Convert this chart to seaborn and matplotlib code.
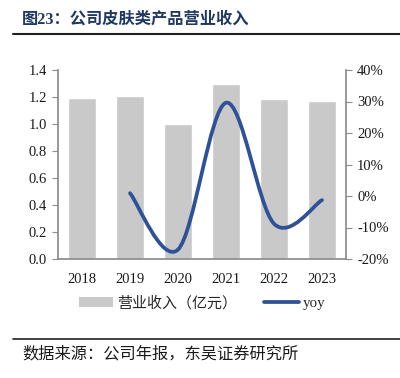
import matplotlib
matplotlib.use("Agg")
import matplotlib.pyplot as plt
import seaborn as sns
import pandas as pd
import numpy as np
from matplotlib.path import Path
from matplotlib.patches import PathPatch, Patch
from matplotlib.lines import Line2D

years = ["2018", "2019", "2020", "2021", "2022", "2023"]
revenue = [1.195, 1.207, 1.0, 1.296, 1.185, 1.17]
yoy_years = ["2019", "2020", "2021", "2022", "2023"]
yoy = [0.9, -17.0, 29.6, -8.8, -1.3]
left_ticks = [0.0, 0.2, 0.4, 0.6, 0.8, 1.0, 1.2, 1.4]
right_ticks = [-20, -10, 0, 10, 20, 30, 40]

sns.set_theme(style="white")
plt.rcParams['font.family'] = ['Liberation Serif', 'Noto Sans CJK SC', 'DejaVu Sans']

fig = plt.figure(figsize=(4.0, 3.78), dpi=100)
ax = fig.add_axes([58/400, 1-259/378, 288/400, 189/378])

df = pd.DataFrame({"year": years, "revenue": revenue})
sns.barplot(data=df, x="year", y="revenue", color="#C9C9C9", width=0.58,
            saturation=1, ax=ax, zorder=1)
ax.set_xlim(-0.5, len(years) - 0.5)
ax.set_ylim(0, 1.4)
ax.set_yticks(left_ticks)
ax.set_yticklabels([f"{t:.1f}" for t in left_ticks])
ax.set_xlabel("")
ax.set_ylabel("")

ax2 = ax.twinx()
ax2.set_ylim(-20, 40)
ax2.set_yticks(right_ticks)
ax2.set_yticklabels([f"{t}%" for t in right_ticks])

# smooth (Excel-like) curve through yoy points
xs = [years.index(y) for y in yoy_years]
pts = list(zip(xs, yoy))
n = len(pts)
verts = [pts[0]]
codes = [Path.MOVETO]
for i in range(n - 1):
    p0 = np.array(pts[max(i - 1, 0)], float)
    p1 = np.array(pts[i], float)
    p2 = np.array(pts[i + 1], float)
    p3 = np.array(pts[min(i + 2, n - 1)], float)
    c1 = p1 + (p2 - p0) / 6
    c2 = p2 - (p3 - p1) / 6
    verts += [tuple(c1), tuple(c2), tuple(p2)]
    codes += [Path.CURVE4] * 3
line_color = "#2E5197"
ax2.add_patch(PathPatch(Path(verts, codes), facecolor="none", edgecolor=line_color,
                        lw=2.7, capstyle="round", zorder=3))

spine_c = "#8C8C8C"
for a in (ax, ax2):
    for s in a.spines.values():
        s.set_visible(False)
    a.tick_params(labelsize=10.5, colors="#1a1a1a", length=0, pad=4)
ax.spines["left"].set_visible(True)
ax.spines["left"].set_color(spine_c)
ax.spines["bottom"].set_visible(True)
ax.spines["bottom"].set_color(spine_c)
ax2.spines["right"].set_visible(True)
ax2.spines["right"].set_color(spine_c)
ax.tick_params(axis="y", length=4, color=spine_c, width=0.8)
ax2.tick_params(axis="y", length=4, color=spine_c, width=0.8)
ax.tick_params(axis="x", pad=10)
ax.grid(False); ax2.grid(False)

handles = [Patch(facecolor="#C9C9C9", edgecolor="none"),
           Line2D([0], [0], color=line_color, lw=2.7)]
fig.legend(handles, ["营业收入（亿元）", "yoy"], loc="center", bbox_to_anchor=(0.505, 1-303/378),
           ncol=2, frameon=False, handlelength=2.3, handletextpad=0.25,
           columnspacing=1.8, prop={'family': ['Liberation Serif', 'Noto Sans CJK SC'], 'size': 10.8})

fig.text(22/400, 1-20/378, "图23：公司皮肤类产品营业收入", fontsize=11.7, fontweight="bold",
         color="#1F3864", va="center", ha="left", family=['Liberation Serif', 'Noto Sans CJK SC'])
fig.add_artist(Line2D([13/400, 1], [1-34/378, 1-34/378], color="#222222", lw=1.5))
fig.add_artist(Line2D([13/400, 1], [1-339/378, 1-339/378], color="#222222", lw=1.2))
fig.text(22/400, 1-354/378, "数据来源：公司年报，东吴证券研究所", fontsize=11.7,
         color="#1a1a1a", va="center", ha="left", family=['Noto Sans CJK SC'])

fig.savefig("out.png", dpi=100)
